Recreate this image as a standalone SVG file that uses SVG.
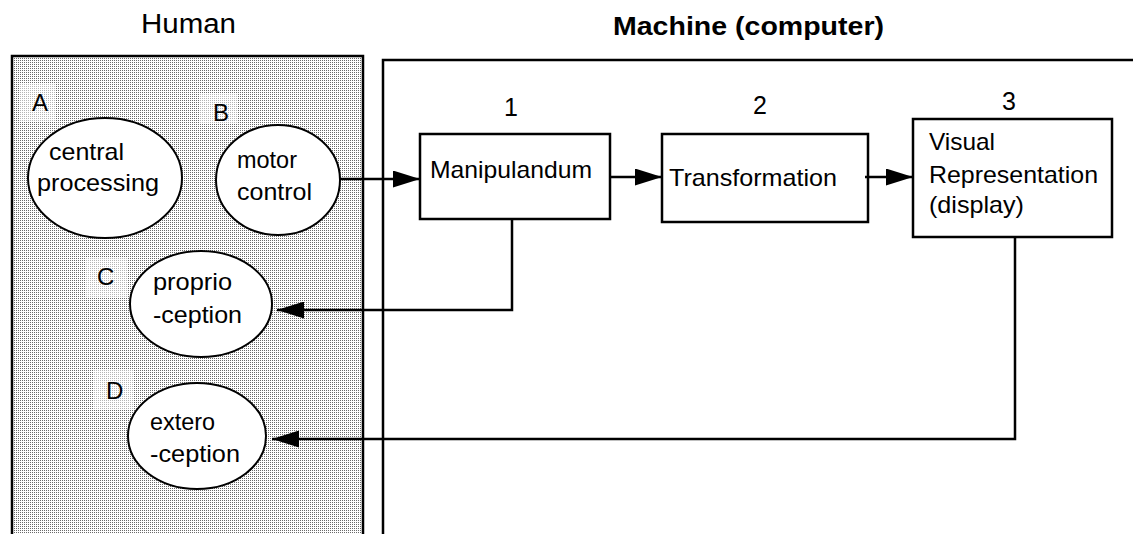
<svg xmlns="http://www.w3.org/2000/svg" width="1133" height="534" viewBox="0 0 1133 534">
<defs>
<pattern id="stip" width="2" height="2" patternUnits="userSpaceOnUse">
<rect width="2" height="2" fill="#ffffff"/>
<rect width="1" height="1" fill="#6a6a6a"/>
</pattern>
<marker id="ah" viewBox="0 0 27 17" refX="27" refY="8.5" markerWidth="27" markerHeight="17" markerUnits="userSpaceOnUse" orient="auto">
<path d="M0,0 L27,8.5 L0,17 Z" fill="#000"/>
</marker>
</defs>
<style>
text{font-family:"Liberation Sans",Arial,sans-serif;fill:#000;}
.t{font-size:24px;}
.lab{font-size:24px;}
.num{font-size:25px;}
.box{fill:#fff;stroke:#000;stroke-width:2.5;}
.ell{fill:#fff;stroke:#000;stroke-width:2;}
.con{fill:none;stroke:#000;stroke-width:2.5;}
</style>
<rect width="1133" height="534" fill="#fff"/>
<text x="141" y="33" font-size="27" textLength="95" lengthAdjust="spacingAndGlyphs">Human</text>
<text x="613" y="35" font-size="26" font-weight="bold" textLength="271" lengthAdjust="spacingAndGlyphs">Machine (computer)</text>
<g id="human">
<rect x="12" y="56" width="351" height="490" fill="url(#stip)" stroke="#000" stroke-width="2.5"/>
<rect x="20" y="83" width="35" height="39" fill="#fff" opacity="0.5"/>
<rect x="200" y="93" width="38" height="30" fill="#fff" opacity="0.5"/>
<rect x="85" y="257" width="42" height="40" fill="#fff" opacity="0.5"/>
<rect x="93" y="370" width="40" height="40" fill="#fff" opacity="0.5"/>
</g>
<g id="machine">
<rect x="383" y="60" width="770" height="490" fill="#fff" stroke="#000" stroke-width="2.5"/>
</g>
<g id="nodeA">
<text class="lab" x="32" y="111">A</text>
<ellipse class="ell" cx="105" cy="178" rx="77" ry="60"/>
<text class="t" x="49" y="160" textLength="75" lengthAdjust="spacingAndGlyphs">central</text>
<text class="t" x="37" y="191" textLength="122" lengthAdjust="spacingAndGlyphs">processing</text>
</g>
<g id="nodeB">
<text class="lab" x="213" y="121">B</text>
<ellipse class="ell" cx="278" cy="180" rx="62" ry="55"/>
<text class="t" x="237" y="168" textLength="60" lengthAdjust="spacingAndGlyphs">motor</text>
<text class="t" x="237" y="200" textLength="75" lengthAdjust="spacingAndGlyphs">control</text>
</g>
<g id="nodeC">
<text class="lab" x="97" y="285">C</text>
<ellipse class="ell" cx="201" cy="304" rx="71" ry="53"/>
<text class="t" x="153" y="290" textLength="79" lengthAdjust="spacingAndGlyphs">proprio</text>
<text class="t" x="153" y="323" textLength="89" lengthAdjust="spacingAndGlyphs">-ception</text>
</g>
<g id="nodeD">
<text class="lab" x="106" y="399">D</text>
<ellipse class="ell" cx="197" cy="436" rx="69" ry="53"/>
<text class="t" x="150" y="430" textLength="65" lengthAdjust="spacingAndGlyphs">extero</text>
<text class="t" x="150" y="462" textLength="90" lengthAdjust="spacingAndGlyphs">-ception</text>
</g>
<g id="node1">
<text class="num" x="504" y="116">1</text>
<rect class="box" x="420" y="134" width="190" height="85"/>
<text class="t" x="430" y="178" textLength="162" lengthAdjust="spacingAndGlyphs">Manipulandum</text>
</g>
<g id="node2">
<text class="num" x="753" y="114">2</text>
<rect class="box" x="662" y="134" width="206" height="88"/>
<text class="t" x="669" y="186" textLength="168" lengthAdjust="spacingAndGlyphs">Transformation</text>
</g>
<g id="node3">
<text class="num" x="1002" y="110">3</text>
<rect class="box" x="913" y="119" width="199" height="118"/>
<text class="t" x="929" y="150" textLength="66" lengthAdjust="spacingAndGlyphs">Visual</text>
<text class="t" x="929" y="183" textLength="169" lengthAdjust="spacingAndGlyphs">Representation</text>
<text class="t" x="929" y="213" textLength="95" lengthAdjust="spacingAndGlyphs">(display)</text>
</g>
<g id="connectors">
<line class="con" x1="340" y1="179" x2="420" y2="179" marker-end="url(#ah)"/>
<line class="con" x1="611" y1="177" x2="662" y2="177" marker-end="url(#ah)"/>
<line class="con" x1="865" y1="177" x2="913" y2="177" marker-end="url(#ah)"/>
<polyline class="con" points="512,219 512,310 277,310" marker-end="url(#ah)"/>
<polyline class="con" points="1015,237 1015,439 272,439" marker-end="url(#ah)"/>
</g>
</svg>
